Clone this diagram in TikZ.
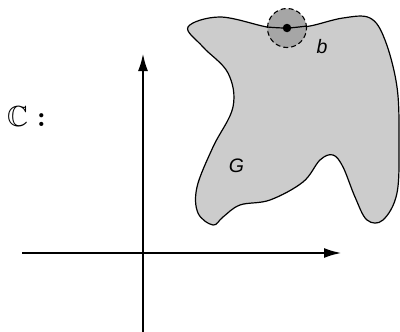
\documentclass[tikz,border=0pt]{standalone}
\usepackage{amssymb}
\usepackage{fontspec}
\newfontfamily\labelfont{Liberation Sans}
\usetikzlibrary{arrows.meta}
\tikzset{
  cx axis/.style={
    line width=2.6pt,
    -{Latex[length=18pt,width=10pt]},
  },
  cx region/.style={
    draw=black,
    line width=1.2pt,
    fill=black!20,
  },
  cx disk/.style={
    circle,
    draw=black,
    dashed,
    dash pattern=on 5pt off 3pt,
    line width=1.1pt,
    fill=black!35,
  },
  cx point/.style={circle, inner sep=0pt, minimum size=8.5pt, fill=black},
  cx label/.style={
    font=\labelfont\itshape\fontsize{19.5}{21}\selectfont,
    inner sep=0pt,
  },
}

\begin{document}
\begin{tikzpicture}[x=1pt,y=-1pt]
  \useasboundingbox (0,0) rectangle (400,332);

  \draw[cx region] plot[smooth cycle, tension=0.6] coordinates {
    (188,27) (220,17) (267,27) (287,28) (310,26) (343,18) (370,18)
    (385,40) (397,87) (399,140) (397,193) (383,220) (367,220)
    (355,197) (343,167) (333,155) (320,160) (303,182) (270,200)
    (240,205) (223,217) (213,225) (198,213) (197,187) (213,147)
    (233,107) (228,73) (203,47)
  };

  \node[cx disk,minimum size=39pt] (nbhd) at (287,28) {};
  \draw[line width=1.2pt] plot[smooth, tension=0.6] coordinates {(267,27) (287,28) (307,26)};
  \node[cx point] (bpt) at (287,28) {};

  \node[cx label] (b) at (322,47) {b};
  \node[cx label] (G) at (236.5,166) {G};

  \node[anchor=base west,inner sep=0pt,font=\fontsize{29}{30}\selectfont] (plane) at (7,126) {$\mathbb{C}$ \textbf{:}};

  \coordinate (xstart) at (22,253);
  \coordinate (xend) at (342,253);
  \coordinate (ystart) at (143,332);
  \coordinate (yend) at (143,53);
  \draw[cx axis] (xstart) -- (xend);
  \draw[cx axis] (ystart) -- (yend);
\end{tikzpicture}
\end{document}
